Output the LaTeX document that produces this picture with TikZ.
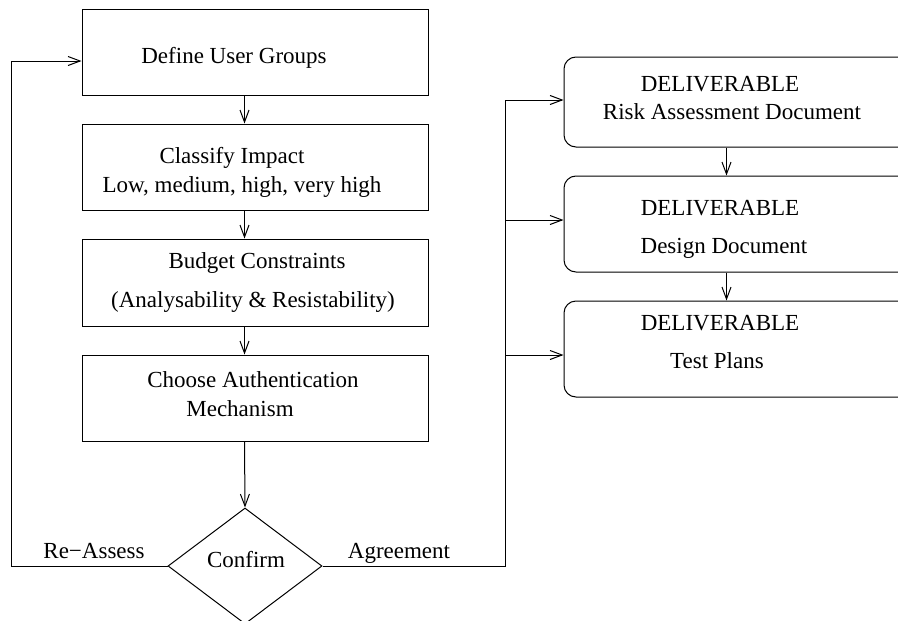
\documentclass[tikz,border=0pt]{standalone}
\usepackage{fontspec}
\setmainfont{Liberation Serif}
\usetikzlibrary{arrows.meta,shapes.geometric}

\begin{document}
\begin{tikzpicture}[x=1pt, y=-1pt, line width=1pt,
  every node/.style={font=\fontsize{23}{27}\selectfont},
  box/.style={draw, rectangle, minimum width=346pt, minimum height=86pt, inner sep=0pt},
  rbox/.style={draw, rectangle, rounded corners=12pt, minimum width=400pt, inner sep=0pt},
  txt/.style={anchor=base, inner sep=0pt},
  arr/.style={-{Straight Barb[length=12pt,width=9pt]}}
]
\useasboundingbox (0,0) rectangle (898,621);
\clip (0,0) rectangle (898,621);

% process column
\node[box] (b1) at (255,52) {};
\node[box] (b2) at (255,167) {};
\node[box, minimum height=87pt] (b3) at (255,282.5) {};
\node[box] (b4) at (255,398) {};
\node[draw, diamond, minimum width=154pt, minimum height=116pt, inner sep=0pt] (d) at (245,566) {};

\node[txt] (t1) at (234,63) {Define User Groups};
\node[txt] (t2a) at (232,163) {Classify Impact};
\node[txt] (t2b) at (242,192) {Low, medium, high, very high};
\node[txt] (t3a) at (257,268) {Budget Constraints};
\node[txt] (t3b) at (253,307) {(Analysability \& Resistability)};
\node[txt] (t4a) at (253,387) {Choose Authentication};
\node[txt] (t4b) at (240,416) {Mechanism};
\node[txt] (td) at (246,567) {Confirm};

% deliverables column
\node[rbox, minimum height=90pt] (r1) at (764,102) {};
\node[rbox, minimum height=96pt] (r2) at (764,224) {};
\node[rbox, minimum height=96pt] (r3) at (764,349) {};

\node[txt] (s1a) at (720,91) {DELIVERABLE};
\node[txt] (s1b) at (732,119) {Risk Assessment Document};
\node[txt] (s2a) at (720,215) {DELIVERABLE};
\node[txt] (s2b) at (724,253) {Design Document};
\node[txt] (s3a) at (720,330) {DELIVERABLE};
\node[txt] (s3b) at (717,368) {Test Plans};

% branch labels
\node[txt] (lra) at (94,558) {Re−Assess};
\node[txt] (lag) at (399,558) {Agreement};

% flow between process steps
\draw[arr] ([xshift=163pt]b1.south west) -- ([xshift=163pt]b2.north west);
\draw[arr] ([xshift=163pt]b2.south west) -- ([xshift=163pt]b3.north west);
\draw[arr] ([xshift=163pt]b3.south west) -- ([xshift=163pt]b4.north west);
\draw[arr] ([xshift=163pt]b4.south west) -- (d.north);

% re-assess loop back to the first step
\coordinate (lx) at (11,0);
\coordinate (in1) at ([yshift=-9pt]b1.west);
\draw[arr] (d.west) -- (d.west -| lx) |- (in1);

% agreement bus to the deliverables
\coordinate (bx) at (505,0);
\coordinate (e1) at ([yshift=2pt]r1.west);
\coordinate (e2) at ([yshift=4pt]r2.west);
\coordinate (e3) at ([yshift=-6pt]r3.west);
\draw (d.east) -- (d.east -| bx) -- (bx |- e1);
\draw[arr] (bx |- e1) -- (e1);
\draw[arr] (bx |- e2) -- (e2);
\draw[arr] (bx |- e3) -- (e3);

% flow between deliverables
\draw[arr] ([xshift=163pt]r1.south west) -- ([xshift=163pt]r2.north west);
\draw[arr] ([xshift=163pt]r2.south west) -- ([xshift=163pt]r3.north west);
\end{tikzpicture}
\end{document}
